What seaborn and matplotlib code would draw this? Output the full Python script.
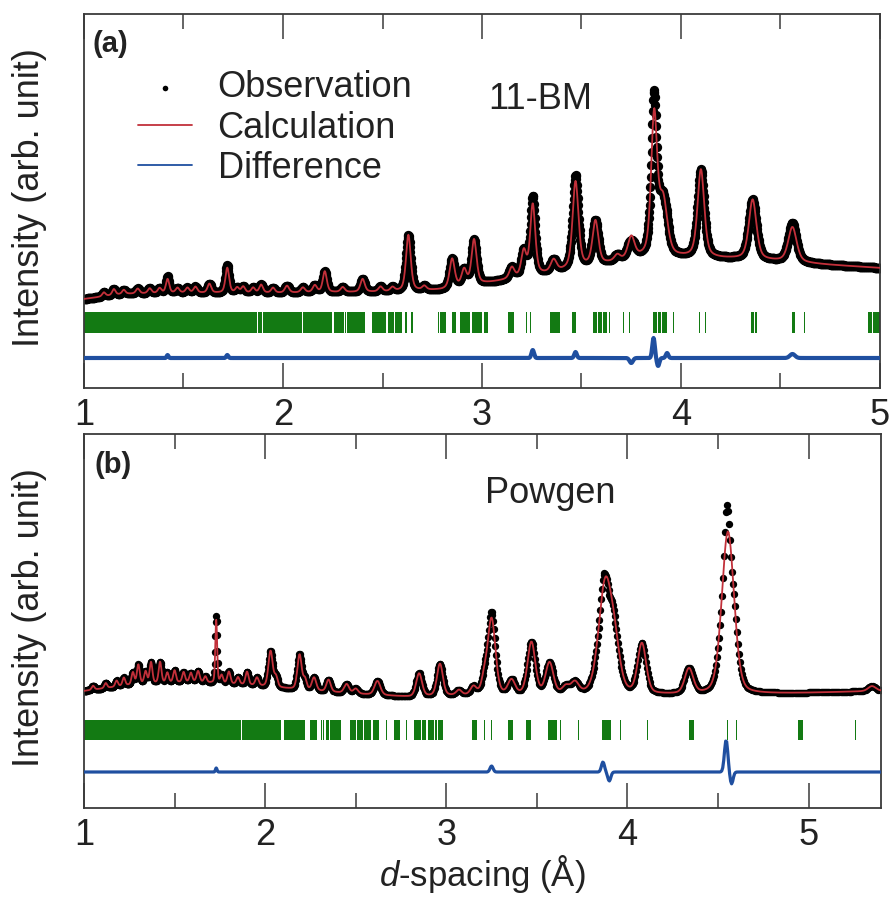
import numpy as np
import pandas as pd
import matplotlib
matplotlib.use("Agg")
import matplotlib.pyplot as plt
import seaborn as sns

# ---------------- Panel (a): 11-BM ----------------
a_bg_d = [1.0, 1.2, 1.5, 2.0, 2.5, 2.8, 3.0, 3.3, 3.6, 3.8, 4.0, 4.25, 4.45, 4.75, 5.0]
a_bg_v = [89, 94, 95, 95, 96, 98, 104, 113, 123, 129, 130, 129, 127, 123, 120]
a_peak_d = [1.10, 1.15, 1.20, 1.27, 1.33, 1.38, 1.42, 1.47, 1.52, 1.56, 1.63, 1.72,
            1.77, 1.80, 1.85, 1.89, 1.95, 2.02, 2.10, 2.16, 2.21, 2.30, 2.40, 2.49,
            2.55, 2.63, 2.71, 2.85, 2.91, 2.96, 3.15, 3.21, 3.255, 3.36, 3.47, 3.57,
            3.68, 3.75, 3.865, 3.91, 4.10, 4.36, 4.56]
a_peak_h = [4, 6, 4, 5, 5, 5, 14, 5, 5, 6, 9, 25,
            5, 6, 5, 8, 5, 7, 5, 7, 21, 5, 13, 5,
            4, 56, 4, 29, 16, 45, 11, 25, 71, 12, 87, 44,
            6, 22, 140, 55, 88, 60, 35]
a_peak_w = [0.02, 0.02, 0.02, 0.022, 0.022, 0.022, 0.02, 0.022, 0.022, 0.022, 0.022, 0.022,
            0.022, 0.022, 0.022, 0.022, 0.022, 0.025, 0.025, 0.025, 0.024, 0.025, 0.026, 0.025,
            0.025, 0.028, 0.025, 0.03, 0.03, 0.03, 0.03, 0.03, 0.03, 0.035, 0.035, 0.035,
            0.035, 0.04, 0.036, 0.05, 0.04, 0.045, 0.05]
a_res_d = [1.42, 1.72, 3.255, 3.47, 3.75, 3.862, 3.885, 3.93, 4.56]
a_res_h = [3, 3, 8, 6, -5, 20, -8, 5, 4]
a_res_w = [0.01, 0.012, 0.015, 0.015, 0.02, 0.015, 0.015, 0.015, 0.03]
a_diff_level = 30
a_tick_lo = [1.000, 1.873, 1.900, 2.102, 2.255, 2.312, 2.324, 2.445, 2.530, 2.565, 2.612,
             2.642, 2.778, 2.790, 2.850, 2.890, 2.950, 3.010, 3.130, 3.220, 3.240, 3.340,
             3.365, 3.450, 3.560, 3.585, 3.610, 3.640, 3.710, 3.740, 3.860, 3.885, 3.905,
             3.960, 4.090, 4.120, 4.350, 4.370, 4.410, 4.557, 4.618, 4.940, 4.965]
a_tick_hi = [1.868, 1.895, 2.095, 2.248, 2.305, 2.318, 2.410, 2.520, 2.560, 2.600, 2.625,
             2.655, 2.783, 2.820, 2.870, 2.940, 3.000, 3.030, 3.160, 3.224, 3.244, 3.380,
             3.390, 3.470, 3.580, 3.605, 3.630, 3.644, 3.714, 3.744, 3.880, 3.900, 3.930,
             3.964, 4.094, 4.124, 4.365, 4.380, 4.414, 4.572, 4.622, 4.958, 5.000]
a_tick_band = [55, 76]

# ---------------- Panel (b): Powgen ----------------
b_bg_d = [1.0, 1.3, 1.6, 1.9, 2.2, 2.5, 2.8, 3.0, 3.5, 4.0, 4.5, 5.0, 5.4]
b_bg_v = [117, 124, 126, 123, 118, 114, 111, 112, 113, 113, 113, 115, 117]
b_peak_d = [1.05, 1.12, 1.18, 1.22, 1.27, 1.30, 1.34, 1.37, 1.42, 1.46, 1.50, 1.55,
            1.59, 1.63, 1.67, 1.73, 1.76, 1.80, 1.85, 1.90, 1.955, 2.03, 2.06, 2.19,
            2.22, 2.27, 2.35, 2.45, 2.50, 2.62, 2.85, 2.965, 3.07, 3.15, 3.21, 3.25,
            3.36, 3.47, 3.57, 3.66, 3.71, 3.877, 3.93, 4.08, 4.34, 4.555, 5.35]
b_peak_h = [4, 5, 6, 8, 12, 19, 12, 21, 21, 10, 12, 10,
            9, 11, 6, 63, 8, 12, 7, 13, 8, 36, 10, 35,
            10, 13, 12, 9, 5, 14, 23, 32, 5, 8, 14, 76,
            14, 52, 31, 7, 11, 108, 38, 50, 25, 163, 5]
b_peak_w = [0.018, 0.018, 0.018, 0.018, 0.018, 0.018, 0.018, 0.018, 0.018, 0.018, 0.018, 0.018,
            0.018, 0.02, 0.018, 0.012, 0.018, 0.02, 0.02, 0.02, 0.022, 0.028, 0.022, 0.028,
            0.022, 0.028, 0.028, 0.032, 0.03, 0.038, 0.038, 0.038, 0.035, 0.038, 0.038, 0.05,
            0.045, 0.05, 0.05, 0.045, 0.05, 0.085, 0.07, 0.055, 0.055, 0.08, 0.05]
b_res_d = [1.73, 3.25, 3.865, 3.90, 4.545, 4.575]
b_res_h = [4, 6, 10, -9, 32, -12]
b_res_w = [0.01, 0.02, 0.02, 0.02, 0.022, 0.02]
b_diff_level = 36
b_tick_lo = [1.000, 1.872, 2.105, 2.250, 2.310, 2.322, 2.334, 2.360, 2.470, 2.506, 2.548,
             2.595, 2.668, 2.710, 2.778, 2.820, 2.868, 2.898, 2.940, 2.955, 3.140, 3.208,
             3.248, 3.340, 3.440, 3.560, 3.628, 3.708, 3.728, 3.860, 3.957, 4.078, 4.108,
             4.340, 4.398, 4.548, 4.598, 4.940, 5.258]
b_tick_hi = [1.865, 2.090, 2.220, 2.285, 2.314, 2.326, 2.350, 2.420, 2.500, 2.540, 2.585,
             2.630, 2.672, 2.745, 2.782, 2.860, 2.890, 2.935, 2.950, 2.980, 3.170, 3.213,
             3.253, 3.370, 3.470, 3.610, 3.634, 3.713, 3.733, 3.910, 3.962, 4.083, 4.113,
             4.370, 4.403, 4.556, 4.603, 4.970, 5.263]
b_tick_band = [68, 88]

xticks_a = [1, 2, 3, 4, 5]
xticks_b = [1, 2, 3, 4, 5]


def profile(x, bg_d, bg_v, pd_, ph, pw, eta):
    y = np.interp(x, bg_d, bg_v).astype(float)
    for d0, h, w in zip(pd_, ph, pw):
        u = (x - d0) / w
        y += h * (eta / (1 + 4 * u ** 2) + (1 - eta) * np.exp(-4 * np.log(2) * u ** 2))
    return y


def residual(x, rd, rh, rw):
    r = np.zeros_like(x)
    for d0, h, w in zip(rd, rh, rw):
        r += h * np.exp(-4 * np.log(2) * ((x - d0) / w) ** 2)
    return r


sns.set_style("white")
plt.rcParams["font.family"] = ["Liberation Sans", "DejaVu Sans"]
plt.rcParams["mathtext.fontset"] = "custom"
plt.rcParams["mathtext.it"] = "Liberation Sans:italic"
plt.rcParams["mathtext.rm"] = "Liberation Sans"

FS = 26
RED = "#c2303a"
BLUE = "#1f4fa0"
GREEN = "#137a13"
FRAME = "#3a3a3a"
TXT = "#222222"

fig = plt.figure(figsize=(8.93, 8.97), dpi=100)
ax_a = fig.add_axes([84 / 893, 1 - 388 / 897, 796 / 893, 374 / 897])
ax_b = fig.add_axes([84 / 893, 1 - 808 / 897, 797 / 893, 374 / 897])


def draw(ax, x, bg_d, bg_v, pd_, ph, pw, eta, rd, rh, rw, dlev, tlo, thi, band,
         xmax, msize, dlw, legend):
    calc = profile(x, bg_d, bg_v, pd_, ph, pw, eta)
    res = residual(x, rd, rh, rw)
    df = pd.DataFrame({"d": x, "obs": calc + res, "calc": calc, "diff": dlev + res})
    sns.scatterplot(data=df, x="d", y="obs", ax=ax, color="black", s=msize,
                    linewidth=0, label="Observation" if legend else None, zorder=2)
    sns.lineplot(data=df, x="d", y="calc", ax=ax, color=RED, lw=1.3,
                 estimator=None, label="Calculation" if legend else None, zorder=3)
    sns.lineplot(data=df, x="d", y="diff", ax=ax, color=BLUE, lw=dlw,
                 estimator=None, label="Difference" if legend else None, zorder=3)
    lo = np.array(tlo)
    hi = np.array(thi)
    ax.bar(lo, band[1] - band[0], width=hi - lo, bottom=band[0], align="edge",
           color=GREEN, linewidth=0, zorder=1)
    ax.set_xlim(1, xmax)
    ax.set_ylim(0, 374)
    ax.set_yticks([])
    ax.set_xlabel("")
    ax.set_ylabel("Intensity (arb. unit)", fontsize=FS, color=TXT)
    ax.yaxis.set_label_coords(-0.047, 0.51)
    ax.xaxis.set_minor_locator(matplotlib.ticker.MultipleLocator(0.5))
    ax.tick_params(axis="x", which="major", direction="in", length=18, width=1.1,
                   top=True, bottom=True, labelsize=FS, pad=7, color=FRAME,
                   labelcolor=TXT)
    ax.tick_params(axis="x", which="minor", direction="in", length=11, width=1.1,
                   top=True, bottom=True, color=FRAME)
    for sp in ax.spines.values():
        sp.set_color(FRAME)
        sp.set_linewidth(1.3)
    if ax.get_legend() is not None and not legend:
        ax.get_legend().remove()


x_a = np.arange(1.0, 5.0001, 0.002)
x_b = 1.0 * 1.0012 ** np.arange(0, int(np.log(5.4) / np.log(1.0012)) + 1)

draw(ax_a, x_a, a_bg_d, a_bg_v, a_peak_d, a_peak_h, a_peak_w, 0.5,
     a_res_d, a_res_h, a_res_w, a_diff_level, a_tick_lo, a_tick_hi, a_tick_band,
     5.0, 45, 3.0, True)
draw(ax_b, x_b, b_bg_d, b_bg_v, b_peak_d, b_peak_h, b_peak_w, 0.3,
     b_res_d, b_res_h, b_res_w, b_diff_level, b_tick_lo, b_tick_hi, b_tick_band,
     5.4, 28, 2.3, False)

ax_a.set_xticks(xticks_a)
ax_b.set_xticks(xticks_b)

leg = ax_a.legend(loc="upper left", bbox_to_anchor=(0.068, 0.85), frameon=False,
                  fontsize=FS, handlelength=1.5, handletextpad=0.7,
                  labelspacing=0.15, borderpad=0, borderaxespad=0, markerscale=0.6)
for t in leg.get_texts():
    t.set_color(TXT)
for ln in leg.get_lines():
    ln.set_linewidth(1.3)

ax_a.text(0.011, 0.957, "(a)", transform=ax_a.transAxes, fontsize=21,
          fontweight="bold", ha="left", va="top", color=TXT)
ax_b.text(0.013, 0.954, "(b)", transform=ax_b.transAxes, fontsize=21,
          fontweight="bold", ha="left", va="top", color=TXT)
ax_a.text(0.573, 0.772, "11-BM", transform=ax_a.transAxes, fontsize=FS,
          ha="center", va="center", color=TXT)
ax_b.text(0.585, 0.84, "Powgen", transform=ax_b.transAxes, fontsize=FS,
          ha="center", va="center", color=TXT)

ax_b.set_xlabel(r"$d$-spacing (Å)", fontsize=25, color=TXT, labelpad=0)

fig.savefig("out.png", dpi=100)
